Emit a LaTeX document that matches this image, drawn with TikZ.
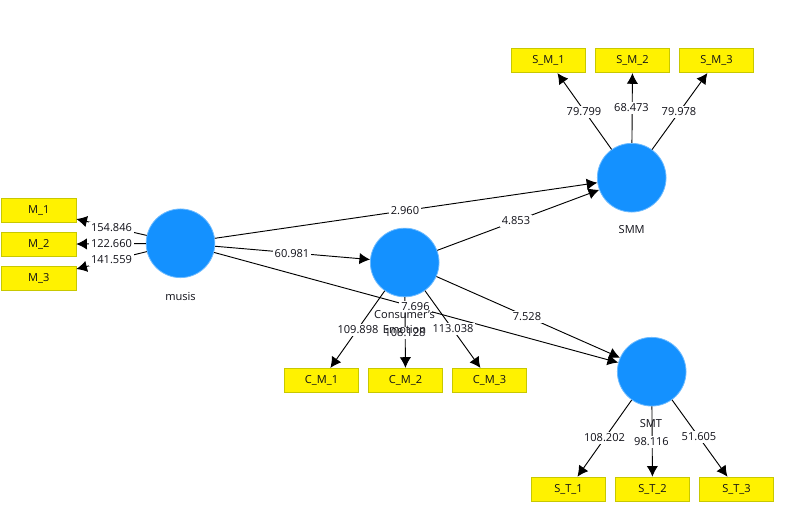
\documentclass[tikz,border=0pt]{standalone}
\usepackage{fontspec}
\setmainfont{Open Sans}
\usetikzlibrary{arrows.meta}
\definecolor{lvblue}{HTML}{1491FF}
\definecolor{lvedge}{HTML}{6DBBFF}
\definecolor{mvedge}{HTML}{C8C800}
\definecolor{txtc}{HTML}{101018}
\tikzset{
  x=0.75pt,y=-0.75pt,
  every node/.style={font=\fontsize{8.3pt}{11.25pt}\selectfont,text=txtc},
  lv/.style={circle,fill=lvblue,draw=lvedge,line width=0.6pt,minimum size=51.5pt,inner sep=0pt},
  mv/.style={rectangle,fill=yellow,draw=mvedge,line width=0.6pt,minimum width=55.8pt,minimum height=18.3pt,inner sep=0pt},
  conn/.style={draw=black,line width=0.7pt,-{Latex[length=8pt,width=8.5pt]}},
  coef/.style={fill=white,inner sep=1.5pt},
  lvname/.style={align=center,inner sep=0pt},
}
\begin{document}
\begin{tikzpicture}
\useasboundingbox (0,0) rectangle (803,527);
\fill[white] (0,0) rectangle (803,527);
% constructs
\node[lv] (musis) at (180.5,243.3) {};
\node[lv] (ce) at (404.7,262.5) {};
\node[lv] (smm) at (631.7,177.7) {};
\node[lv] (smt) at (651.7,371.7) {};
% indicators
\node[mv] (m1) at (38.7,210.3) {M\_1};
\node[mv] (m2) at (38.7,244.3) {M\_2};
\node[mv] (m3) at (38.7,278.3) {M\_3};
\node[mv] (cm1) at (321.5,380.5) {C\_M\_1};
\node[mv] (cm2) at (405.5,380.5) {C\_M\_2};
\node[mv] (cm3) at (489.5,380.5) {C\_M\_3};
\node[mv] (sm1) at (548.5,60.5) {S\_M\_1};
\node[mv] (sm2) at (632.5,60.5) {S\_M\_2};
\node[mv] (sm3) at (716.5,60.5) {S\_M\_3};
\node[mv] (st1) at (568.5,489.3) {S\_T\_1};
\node[mv] (st2) at (652.5,489.3) {S\_T\_2};
\node[mv] (st3) at (736.5,489.3) {S\_T\_3};
% connectors
\foreach \a/\b in {musis/m1,musis/m2,musis/m3,musis/ce,musis/smm,musis/smt,ce/smm,ce/smt,
  ce/cm1,ce/cm2,ce/cm3,smm/sm1,smm/sm2,smm/sm3,smt/st1,smt/st2,smt/st3}
  \draw[conn] (\a) -- (\b);
% coefficients
\node[coef] (l1) at (111.5,228) {154.846};
\node[coef] (l2) at (111.5,244) {122.660};
\node[coef] (l3) at (111.5,260) {141.559};
\node[coef] (l4) at (292,254) {60.981};
\node[coef] (l5) at (405,211) {2.960};
\node[coef] (l6) at (516,221) {4.853};
\node[coef] (l7) at (527,317) {7.528};
\node[coef] (l8) at (415.5,307) {7.696};
\node[coef] (l9) at (358,330) {109.898};
\node[coef] (l10) at (405,333) {108.128};
\node[coef] (l11) at (453,329) {113.038};
\node[coef] (l12) at (584,112) {79.799};
\node[coef] (l13) at (631.5,108) {68.473};
\node[coef] (l14) at (679,112) {79.978};
\node[coef] (l15) at (604.5,438) {108.202};
\node[coef] (l16) at (651.5,442) {98.116};
\node[coef] (l17) at (699,437) {51.605};
% construct names
\node[lvname] (nmusis) at (180.5,296) {musis};
\node[lvname] (nce) at (404.5,322.5) {Consumer's\\Emotion};
\node[lvname] (nsmm) at (631.7,229.5) {SMM};
\node[lvname] (nsmt) at (651,424) {SMT};
\end{tikzpicture}
\end{document}
